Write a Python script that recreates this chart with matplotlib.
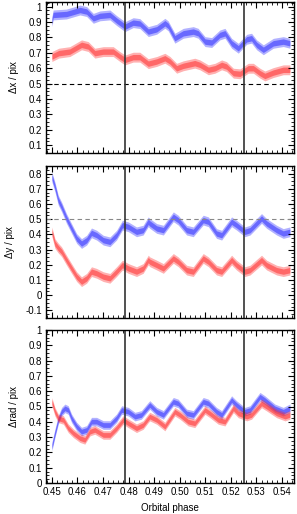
import matplotlib
matplotlib.use("Agg")
import matplotlib.pyplot as plt
from matplotlib.ticker import AutoMinorLocator, FormatStrFormatter
import numpy as np

plt.rcParams['font.family'] = ['Liberation Sans', 'DejaVu Sans']

# ---- data ----
# Panel 1: dx
dx_blue_phase = [0.4500, 0.4505, 0.4557, 0.4610, 0.4636, 0.4662, 0.4688, 0.4727, 0.4753, 0.4786,
                 0.4818, 0.4844, 0.4877, 0.4910, 0.4942, 0.4955, 0.4981, 0.5014, 0.5053, 0.5072,
                 0.5099, 0.5125, 0.5157, 0.5177, 0.5203, 0.5229, 0.5262, 0.5281, 0.5301, 0.5327,
                 0.5366, 0.5405, 0.5431]
dx_blue = [0.903, 0.946, 0.952, 0.978, 0.968, 0.924, 0.940, 0.946, 0.910, 0.870,
           0.896, 0.890, 0.838, 0.853, 0.892, 0.875, 0.795, 0.827, 0.838, 0.827,
           0.773, 0.767, 0.816, 0.827, 0.762, 0.730, 0.788, 0.795, 0.752, 0.720,
           0.762, 0.773, 0.762]
dx_red_phase = [0.4500, 0.4527, 0.4570, 0.4616, 0.4642, 0.4668, 0.4701, 0.4740, 0.4766, 0.4786,
                0.4818, 0.4844, 0.4877, 0.4910, 0.4942, 0.4962, 0.4988, 0.5014, 0.5059, 0.5079,
                0.5112, 0.5138, 0.5164, 0.5183, 0.5210, 0.5236, 0.5268, 0.5288, 0.5314, 0.5333,
                0.5366, 0.5405, 0.5431]
dx_red = [0.676, 0.698, 0.708, 0.752, 0.741, 0.698, 0.708, 0.708, 0.676, 0.654,
          0.672, 0.672, 0.630, 0.644, 0.665, 0.644, 0.600, 0.616, 0.633, 0.622,
          0.590, 0.600, 0.622, 0.611, 0.568, 0.564, 0.600, 0.600, 0.568, 0.550,
          0.572, 0.590, 0.590]

# Panel 2: dy
dy_phase = [0.4500, 0.4512, 0.4525, 0.4538, 0.4557, 0.4577, 0.4597, 0.4616, 0.4636, 0.4655,
            0.4675, 0.4701, 0.4727, 0.4753, 0.4776, 0.4799, 0.4831, 0.4857, 0.4877, 0.4883,
            0.4910, 0.4936, 0.4975, 0.4994, 0.5027, 0.5053, 0.5092, 0.5112, 0.5144, 0.5164,
            0.5203, 0.5222, 0.5255, 0.5275, 0.5320, 0.5340, 0.5379, 0.5405, 0.5431]
dy_blue = [0.778, 0.712, 0.625, 0.581, 0.505, 0.439, 0.373, 0.340, 0.362, 0.410,
           0.395, 0.362, 0.351, 0.395, 0.461, 0.450, 0.417, 0.428, 0.483, 0.472,
           0.439, 0.428, 0.516, 0.494, 0.428, 0.417, 0.494, 0.483, 0.406, 0.395,
           0.483, 0.461, 0.417, 0.428, 0.505, 0.472, 0.428, 0.406, 0.417]
dy_red = [0.417, 0.340, 0.310, 0.286, 0.231, 0.176, 0.122, 0.089, 0.111, 0.155,
          0.144, 0.122, 0.111, 0.155, 0.198, 0.176, 0.155, 0.176, 0.231, 0.220,
          0.198, 0.176, 0.242, 0.220, 0.165, 0.155, 0.242, 0.220, 0.165, 0.155,
          0.231, 0.198, 0.155, 0.165, 0.231, 0.198, 0.165, 0.155, 0.165]

# Panel 3: drad
dr_blue_phase = [0.4500, 0.4512, 0.4525, 0.4538, 0.4551, 0.4564, 0.4577, 0.4597, 0.4616, 0.4636,
                 0.4655, 0.4675, 0.4701, 0.4727, 0.4753, 0.4773, 0.4799, 0.4825, 0.4850, 0.4877,
                 0.4883, 0.4910, 0.4936, 0.4975, 0.4994, 0.5027, 0.5053, 0.5092, 0.5112, 0.5144,
                 0.5164, 0.5203, 0.5222, 0.5255, 0.5275, 0.5314, 0.5333, 0.5372, 0.5405, 0.5431]
dr_blue = [0.238, 0.325, 0.412, 0.466, 0.488, 0.477, 0.423, 0.369, 0.336, 0.347,
           0.401, 0.401, 0.379, 0.379, 0.423, 0.477, 0.466, 0.434, 0.445, 0.499,
           0.510, 0.466, 0.445, 0.531, 0.520, 0.455, 0.445, 0.531, 0.520, 0.466,
           0.445, 0.542, 0.510, 0.466, 0.477, 0.564, 0.542, 0.488, 0.466, 0.488]
dr_red_phase = [0.4500, 0.4512, 0.4525, 0.4545, 0.4564, 0.4584, 0.4610, 0.4629, 0.4649, 0.4668,
                0.4701, 0.4727, 0.4753, 0.4779, 0.4799, 0.4831, 0.4857, 0.4877, 0.4883, 0.4910,
                0.4942, 0.4981, 0.5001, 0.5033, 0.5059, 0.5099, 0.5118, 0.5151, 0.5177, 0.5210,
                0.5229, 0.5262, 0.5281, 0.5320, 0.5340, 0.5379, 0.5412, 0.5431]
dr_red = [0.530, 0.466, 0.423, 0.412, 0.358, 0.325, 0.293, 0.282, 0.336, 0.347,
          0.314, 0.314, 0.358, 0.412, 0.390, 0.358, 0.379, 0.423, 0.434, 0.412,
          0.369, 0.466, 0.445, 0.401, 0.390, 0.477, 0.455, 0.412, 0.401, 0.488,
          0.455, 0.434, 0.445, 0.520, 0.499, 0.455, 0.434, 0.445]

# scatter half-width of the dot clouds
band_half = {'dx': 0.032, 'dy': 0.032, 'drad': 0.028}

vlines_phase = [0.4786, 0.5251]
xticks = [0.45, 0.46, 0.47, 0.48, 0.49, 0.50, 0.51, 0.52, 0.53, 0.54]

BLUE = '#2020ff'
RED = '#ff2020'

W, H = 297, 514
fig = plt.figure(figsize=(W / 100, H / 100), dpi=100)

def px_axes(top, bottom, left=46, right=294):
    return fig.add_axes([left / W, 1 - bottom / H, (right - left) / W, (bottom - top) / H])

axes = [px_axes(2, 153), px_axes(166, 318), px_axes(330, 483)]

series = [
    [(dx_blue_phase, dx_blue, BLUE), (dx_red_phase, dx_red, RED)],
    [(dy_phase, dy_blue, BLUE), (dy_phase, dy_red, RED)],
    [(dr_blue_phase, dr_blue, BLUE), (dr_red_phase, dr_red, RED)],
]
keys = ['dx', 'dy', 'drad']
ylims = [(0.05, 1.03), (-0.15, 0.85), (0.0, 1.0)]
yticks = [np.round(np.arange(0.1, 1.01, 0.1), 2),
          np.round(np.arange(-0.1, 0.81, 0.1), 2),
          np.round(np.arange(0.0, 1.01, 0.1), 2)]
ylabels = ['Δx / pix', 'Δy / pix', 'Δrad / pix']

for i, ax in enumerate(axes):
    hw = band_half[keys[i]]
    for ph, vals, col in series[i]:
        ph = np.array(ph); vals = np.array(vals)
        ax.fill_between(ph, vals - hw, vals + hw, color=col, alpha=0.35, lw=0)
        ax.fill_between(ph, vals - hw * 0.55, vals + hw * 0.55, color=col, alpha=0.5, lw=0)
    if i == 0:
        ax.axhline(0.5, color='black', ls=(0, (4, 3)), lw=0.8)
    elif i == 1:
        ax.axhline(0.5, color='#888888', ls=(0, (4, 3)), lw=0.8)
    for v in vlines_phase:
        ax.axvline(v, color='#333333', lw=1.2)
    ax.set_xlim(0.4477, 0.5447)
    ax.set_ylim(*ylims[i])
    ax.set_xticks(xticks)
    ax.xaxis.set_minor_locator(AutoMinorLocator(5))
    ax.set_yticks(yticks[i])
    ax.yaxis.set_minor_locator(AutoMinorLocator(4))
    ax.yaxis.set_major_formatter(FormatStrFormatter('%g'))
    ax.tick_params(which='both', direction='in', top=True, right=True, labelsize=7, pad=3)
    ax.tick_params(which='major', length=4, width=0.8)
    ax.tick_params(which='minor', length=2, width=0.6)
    for s in ax.spines.values():
        s.set_linewidth(1.0)
    ax.set_ylabel(ylabels[i], fontsize=7, labelpad=7)
    if i < 2:
        ax.tick_params(labelbottom=False)
    else:
        ax.xaxis.set_major_formatter(FormatStrFormatter('%.2f'))
        ax.set_xlabel('Orbital phase', fontsize=7, labelpad=4)

fig.savefig('out.png', dpi=100)
